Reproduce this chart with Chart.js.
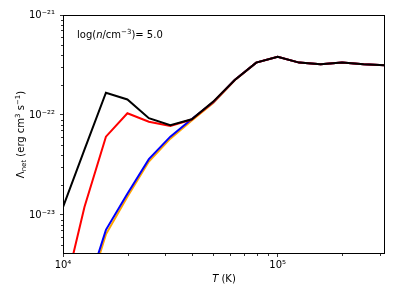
<!DOCTYPE html>
<html>
<head>
<meta charset="utf-8">
<script src="https://cdn.jsdelivr.net/npm/chart.js@4/dist/chart.umd.min.js"></script>
<style>
  html, body { margin: 0; padding: 0; background: #fff; }
  #wrap { width: 399px; height: 299px; }
</style>
</head>
<body>
<div id="wrap"><canvas id="coolChart"></canvas></div>
<script>
// temperatura (K)
const temps = [10000, 12589, 15849, 19953, 25119, 31623, 39811, 50119, 63096, 79433, 100000, 125893, 158489, 199526, 251189, 316228];

// Lambda_net (erg cm^3 s^-1)
const lamBlack  = [1.2e-23, 4.5e-23, 1.67e-22, 1.43e-22, 9.3e-23, 7.9e-23, 9.05e-23, 1.36e-22, 2.24e-22, 3.34e-22, 3.83e-22, 3.34e-22, 3.21e-22, 3.34e-22, 3.21e-22, 3.14e-22];
const lamRed    = [1.5e-24, 1.2e-23, 6.07e-23, 1.04e-22, 8.57e-23, 7.76e-23, 9.0e-23, 1.35e-22, 2.24e-22, 3.34e-22, 3.83e-22, 3.34e-22, 3.21e-22, 3.34e-22, 3.21e-22, 3.14e-22];
const lamBlue   = [2.0e-25, 1.5e-24, 7.1e-24, 1.63e-23, 3.62e-23, 6.07e-23, 9.1e-23, 1.34e-22, 2.24e-22, 3.34e-22, 3.83e-22, 3.34e-22, 3.21e-22, 3.34e-22, 3.21e-22, 3.14e-22];
const lamOrange = [1.5e-25, 1.3e-24, 6.4e-24, 1.52e-23, 3.42e-23, 5.8e-23, 8.8e-23, 1.32e-22, 2.22e-22, 3.34e-22, 3.83e-22, 3.34e-22, 3.21e-22, 3.34e-22, 3.21e-22, 3.14e-22];

// ticks
const xMajor = [1e4, 1e5];
const xMajorLabels = ['10⁴', '10⁵'];
const yMajor = [1e-23, 1e-22, 1e-21];
const yMajorLabels = ['10⁻²³', '10⁻²²', '10⁻²¹'];
const minorMult = [2, 3, 4, 5, 6, 7, 8, 9];

const xMin = 1e4, xMax = 316228;
const yMin = 4.07e-24, yMax = 1e-21;

const FONT = 'DejaVu Sans';

function esMayor(v) {
    const l = Math.log10(v);
    return Math.abs(l - Math.round(l)) < 1e-6;
}

function construirTicks(scale, min, max) {
    const ticks = [];
    const dec0 = Math.floor(Math.log10(min));
    const dec1 = Math.ceil(Math.log10(max));
    for (let d = dec0; d <= dec1; d++) {
        const b = Math.pow(10, d);
        [1].concat(minorMult).forEach(m => {
            const v = m * b;
            if (v >= min * 0.9999 && v <= max * 1.0001) {
                ticks.push({ value: v, major: m === 1 });
            }
        });
    }
    scale.ticks = ticks;
}

function etiqueta(v, majors, labels) {
    if (!esMayor(v)) return '';
    for (let i = 0; i < majors.length; i++) {
        if (Math.abs(Math.log10(v) - Math.log10(majors[i])) < 1e-6) return labels[i];
    }
    return '';
}

// texto con cursiva / super / subindices
function dibujarTexto(ctx, parts, x, y, align) {
    let w = 0;
    parts.forEach(p => {
        const size = (p.sup || p.sub) ? 7 : 10;
        ctx.font = (p.it ? 'italic ' : '') + size + 'px "' + FONT + '"';
        p.w = ctx.measureText(p.t).width;
        p.size = size;
        w += p.w;
    });
    let cx = align === 'center' ? x - w / 2 : x;
    ctx.textBaseline = 'alphabetic';
    ctx.textAlign = 'left';
    parts.forEach(p => {
        ctx.font = (p.it ? 'italic ' : '') + p.size + 'px "' + FONT + '"';
        const dy = p.sup ? -4 : (p.sub ? 2.5 : 0);
        ctx.fillText(p.t, cx, y + dy);
        cx += p.w;
    });
}

const extras = {
    id: 'extras',
    afterDraw(chart) {
        const ctx = chart.ctx;
        const a = chart.chartArea;
        ctx.save();
        // marco
        ctx.strokeStyle = '#000';
        ctx.lineWidth = 1;
        ctx.strokeRect(Math.round(a.left) + 0.5, Math.round(a.top) + 0.5,
                       Math.round(a.right - a.left) - 1, Math.round(a.bottom - a.top) - 1);

        // ticks menores
        ctx.lineWidth = 0.8;
        const sx = chart.scales.x, sy = chart.scales.y;
        sx.ticks.forEach(t => {
            if (t.major) return;
            const px = Math.round(sx.getPixelForValue(t.value)) + 0.5;
            ctx.beginPath();
            ctx.moveTo(px, a.bottom);
            ctx.lineTo(px, a.bottom + 2);
            ctx.stroke();
        });
        sy.ticks.forEach(t => {
            if (t.major) return;
            const py = Math.round(sy.getPixelForValue(t.value)) + 0.5;
            ctx.beginPath();
            ctx.moveTo(a.left, py);
            ctx.lineTo(a.left - 2, py);
            ctx.stroke();
        });

        ctx.fillStyle = '#000';
        // anotacion
        dibujarTexto(ctx, [
            { t: 'log(' }, { t: 'n', it: true }, { t: '/cm' }, { t: '−3', sup: true }, { t: ')= 5.0' }
        ], a.left + 14, a.top + 23, 'left');

        // titulo eje x
        dibujarTexto(ctx, [{ t: 'T', it: true }, { t: ' (K)' }], (a.left + a.right) / 2, 282, 'center');

        // titulo eje y
        ctx.translate(19, (a.top + a.bottom) / 2);
        ctx.rotate(-Math.PI / 2);
        dibujarTexto(ctx, [
            { t: 'Λ' }, { t: 'net', sub: true }, { t: ' (erg cm' }, { t: '3', sup: true },
            { t: ' s' }, { t: '−1', sup: true }, { t: ')' }
        ], 0, 4.5, 'center');
        ctx.restore();
    }
};

function serie(ys) {
    return temps.map((t, i) => ({ x: t, y: ys[i] }));
}

const ctx = document.getElementById('coolChart').getContext('2d');
const coolChart = new Chart(ctx, {
    type: 'line',
    data: {
        datasets: [
            { data: serie(lamBlack),  borderColor: '#000000' },
            { data: serie(lamRed),    borderColor: '#ff0000' },
            { data: serie(lamBlue),   borderColor: '#0000ff' },
            { data: serie(lamOrange), borderColor: '#ffa500' }
        ]
    },
    options: {
        responsive: true,
        maintainAspectRatio: false,
        animation: false,
        layout: { padding: { top: 15, right: 14, left: 0, bottom: 0 } },
        elements: {
            point: { radius: 0 },
            line: { borderWidth: 2, tension: 0, fill: false }
        },
        plugins: {
            legend: { display: false },
            tooltip: { enabled: false }
        },
        scales: {
            x: {
                type: 'logarithmic',
                min: xMin,
                max: xMax,
                afterBuildTicks: s => construirTicks(s, xMin, xMax),
                afterFit: s => { s.height = 45; },
                ticks: {
                    autoSkip: false,
                    maxRotation: 0,
                    padding: 2,
                    color: '#000',
                    font: { family: FONT, size: 10 },
                    callback: v => etiqueta(v, xMajor, xMajorLabels)
                },
                grid: {
                    drawOnChartArea: false,
                    tickLength: 3,
                    tickWidth: 0.8,
                    tickColor: c => (c.tick && esMayor(c.tick.value)) ? '#000' : 'rgba(0,0,0,0)'
                },
                border: { display: false }
            },
            y: {
                type: 'logarithmic',
                min: yMin,
                max: yMax,
                afterBuildTicks: s => construirTicks(s, yMin, yMax),
                afterFit: s => { s.width = 63; },
                ticks: {
                    autoSkip: false,
                    padding: 5,
                    color: '#000',
                    font: { family: FONT, size: 10 },
                    callback: v => etiqueta(v, yMajor, yMajorLabels)
                },
                grid: {
                    drawOnChartArea: false,
                    tickLength: 3,
                    tickWidth: 0.8,
                    tickColor: c => (c.tick && esMayor(c.tick.value)) ? '#000' : 'rgba(0,0,0,0)'
                },
                border: { display: false }
            }
        }
    },
    plugins: [extras]
});
</script>
</body>
</html>
